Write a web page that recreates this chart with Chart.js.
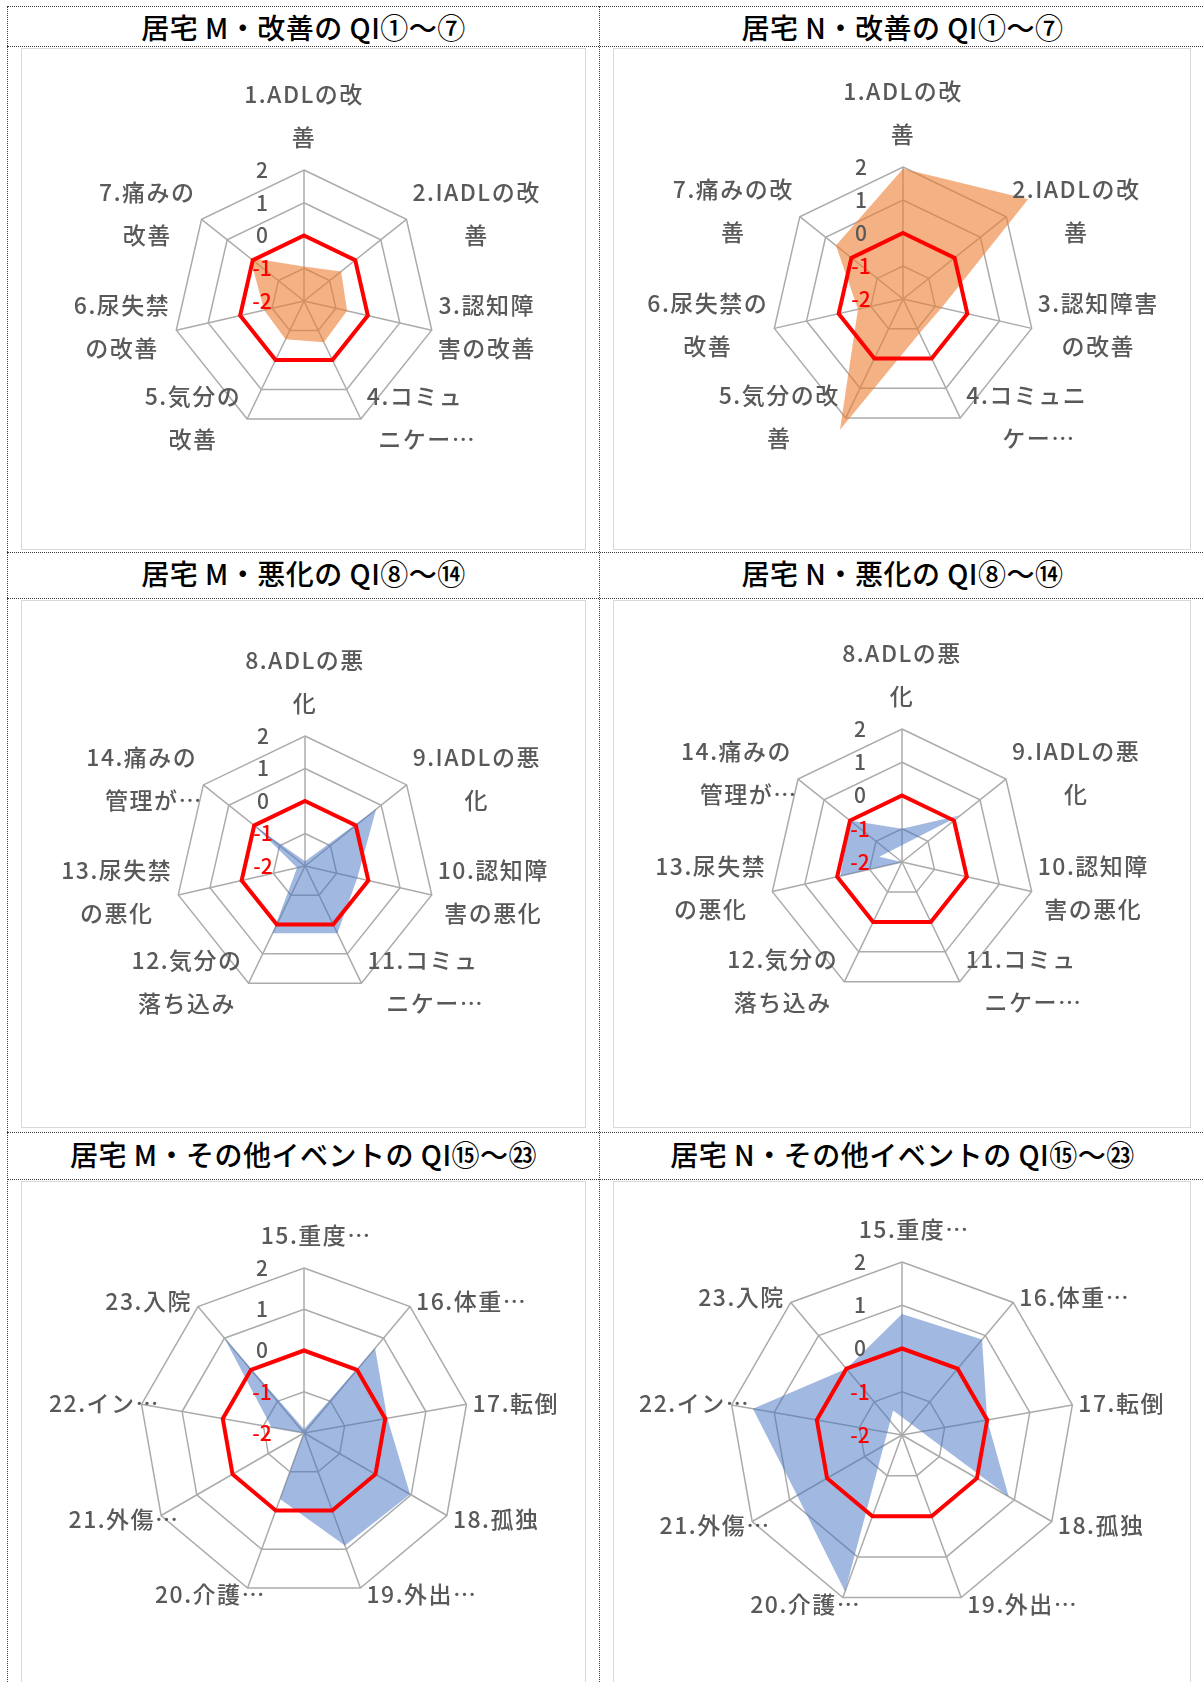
<!DOCTYPE html>
<html><head><meta charset="utf-8">
<script src="https://cdn.jsdelivr.net/npm/chart.js@4.4.1/dist/chart.umd.min.js"></script>
<style>
html,body{margin:0;padding:0;background:#fff;}
body{width:1203px;height:1682px;position:relative;overflow:hidden;font-family:"Noto Sans CJK JP","Noto Sans",sans-serif;}
.hl{position:absolute;height:0;border-top:1px dotted #3a3a3a;}
.vl{position:absolute;width:0;border-left:1px dotted #3a3a3a;}
.title{position:absolute;text-align:center;font-size:28px;font-weight:500;color:#000;letter-spacing:0.5px;line-height:40px;height:40px;white-space:nowrap;}
.box{position:absolute;border:1px solid #d9d9d9;box-sizing:border-box;}
canvas{position:absolute;}
</style></head><body>
<div class="hl" style="left:7px;width:1198px;top:6px"></div>
<div class="hl" style="left:7px;width:1198px;top:46px"></div>
<div class="hl" style="left:7px;width:1198px;top:552px"></div>
<div class="hl" style="left:7px;width:1198px;top:598px"></div>
<div class="hl" style="left:7px;width:1198px;top:1132px"></div>
<div class="hl" style="left:7px;width:1198px;top:1179px"></div>
<div class="vl" style="left:7px;top:6px;height:1680px"></div>
<div class="vl" style="left:599px;top:6px;height:1680px"></div>
<div id="root"></div>
<script>
// ---------- data ----------
const tickValues = [-2, -1, 0, 1, 2];

const titles = [
  "居宅 M・改善の QI①～⑦", "居宅 N・改善の QI①～⑦",
  "居宅 M・悪化の QI⑧～⑭", "居宅 N・悪化の QI⑧～⑭",
  "居宅 M・その他イベントの QI⑮～㉓", "居宅 N・その他イベントの QI⑮～㉓"
];

const labelsImpM = [["1.ADLの改","善"],["2.IADLの改","善"],["3.認知障","害の改善"],["4.コミュ","ニケー…"],["5.気分の","改善"],["6.尿失禁","の改善"],["7.痛みの","改善"]];
const labelsImpN = [["1.ADLの改","善"],["2.IADLの改","善"],["3.認知障害","の改善"],["4.コミュニ","ケー…"],["5.気分の改","善"],["6.尿失禁の","改善"],["7.痛みの改","善"]];
const labelsDet = [["8.ADLの悪","化"],["9.IADLの悪","化"],["10.認知障","害の悪化"],["11.コミュ","ニケー…"],["12.気分の","落ち込み"],["13.尿失禁","の悪化"],["14.痛みの","管理が…"]];
const labelsOther = ["15.重度…","16.体重…","17.転倒","18.孤独","19.外出…","20.介護…","21.外傷…","22.イン…","23.入院"];

const improveM = [-0.95, -0.55, -0.65, -0.6, -0.7, -0.75, 0.1];
const improveN = [1.95, 2.85, -0.8, -0.85, 2.4, -0.6, 0.6];
const worsenM  = [-1.85, 0.8, -0.35, 0.3, 0.3, -1.75, 0.0];
const worsenN  = [-1.0, 0.25, -2.7, -2.0, -2.0, -0.1, 0.0];
const otherM   = [-1.9, 0.68, 0.05, 0.97, 0.9, -0.3, -2.0, -1.2, 1.0];
const otherN   = [0.8, 0.88, 0.0, 0.85, -2.6, 1.85, 0.8, 1.5, 0.0];

const base7 = [0, 0, 0, 0, 0, 0, 0];
const base9 = [0, 0, 0, 0, 0, 0, 0, 0, 0];

// ---------- styling ----------
const FONT = '"Noto Sans CJK JP", "Noto Sans", sans-serif';
const ORANGE = 'rgba(237,125,49,0.6)';
const BLUE = 'rgba(68,114,196,0.5)';
const TICK_SIZE = 21;
const PAD = '\u3000\u3000\u3000\u3000';

const excelLabels = {
  id: 'excelLabels',
  afterDatasetsDraw(chart, args, o) {
    const scale = chart.scales.r;
    const ctx = chart.ctx;
    ctx.save();
    ctx.font = o.weight + ' ' + o.size + 'px ' + FONT;
    try { ctx.letterSpacing = o.spacing + 'px'; } catch (e) {}
    ctx.fillStyle = o.color;
    ctx.textBaseline = 'middle';
    ctx.textAlign = 'left';
    const R = scale.drawingArea;
    chart.data.labels.forEach((lab, i) => {
      const lines = Array.isArray(lab) ? lab : [lab];
      const p = scale.getPointPosition(i, R);
      const a = scale.getIndexAngle(i);
      const s = Math.sin(a), c = Math.cos(a);
      const ws = lines.map(t => ctx.measureText(t.replace('…', '')).width);
      const W = Math.max.apply(null, ws), H = lines.length * o.lineHeight;
      let cx, cy;
      if (Math.abs(s) < 0.05) {
        cx = p.x;
        cy = c > 0 ? p.y - o.topGap - H / 2 : p.y + o.topGap + H / 2;
      } else {
        cx = s > 0 ? p.x + o.gap + W / 2 : p.x - o.gap - W / 2;
        cy = p.y - o.lift * c - (lines.length - 1) * o.multiLift * (1 - c);
      }
      lines.forEach((t, k) => ctx.fillText(t, cx - ws[k] / 2, cy - H / 2 + o.lineHeight * (k + 0.5)));
    });
    ctx.restore();
  }
};

// layout: [boxLeft, boxTop, boxW, boxH, centerX, centerY, radius]
const panels = [
  { title: titles[0], labels: labelsImpM, values: improveM, base: base7, color: ORANGE, geom: [21, 48, 565, 502, 283, 253, 131] },
  { title: titles[1], labels: labelsImpN, values: improveN, base: base7, color: ORANGE, geom: [613, 48, 578, 502, 290, 251, 132] },
  { title: titles[2], labels: labelsDet, values: worsenM, base: base7, color: BLUE, geom: [21, 600, 565, 528, 284, 266, 130] },
  { title: titles[3], labels: labelsDet, values: worsenN, base: base7, color: BLUE, geom: [613, 600, 578, 528, 289, 262, 133] },
  { title: titles[4], labels: labelsOther, values: otherM, base: base9, color: BLUE, geom: [21, 1181, 565, 510, 283, 252, 165] },
  { title: titles[5], labels: labelsOther, values: otherN, base: base9, color: BLUE, geom: [613, 1181, 578, 510, 289, 254, 173] }
];
const titleRows = [7, 553, 1134];

const root = document.getElementById('root');
panels.forEach((pn, idx) => {
  const col = idx % 2, row = Math.floor(idx / 2);
  const t = document.createElement('div');
  t.className = 'title';
  t.style.left = (col === 0 ? 8 : 600) + 'px';
  t.style.width = (col === 0 ? 591 : 605) + 'px';
  t.style.top = titleRows[row] + 'px';
  t.textContent = pn.title;
  root.appendChild(t);

  const [bx, by, bw, bh, cx, cy, R] = pn.geom;
  const box = document.createElement('div');
  box.className = 'box';
  Object.assign(box.style, { left: bx + 'px', top: by + 'px', width: bw + 'px', height: bh + 'px' });
  root.appendChild(box);

  const cv = document.createElement('canvas');
  cv.width = bw; cv.height = bh;
  Object.assign(cv.style, { left: bx + 'px', top: by + 'px', width: bw + 'px', height: bh + 'px' });
  root.appendChild(cv);

  const half = TICK_SIZE / 2;
  new Chart(cv, {
    type: 'radar',
    data: {
      labels: pn.labels,
      datasets: [
        { data: pn.base, borderColor: '#FF0000', borderWidth: 4, borderJoinStyle: 'miter', fill: false, pointRadius: 0, order: 0 },
        { data: pn.values, backgroundColor: pn.color, borderColor: 'rgba(0,0,0,0)', borderWidth: 0, fill: 'start', pointRadius: 0, order: 1 }
      ]
    },
    options: {
      responsive: false, animation: false, events: [],
      devicePixelRatio: 1,
      layout: { padding: { left: cx - R - half, right: bw - cx - R - half, top: cy - R - half, bottom: bh - cy - R - half } },
      plugins: {
        legend: { display: false }, tooltip: { enabled: false },
        excelLabels: { size: 23, weight: 500, spacing: 1.5, color: '#595959', lineHeight: 43, gap: 6, topGap: 11, lift: 7, multiLift: 4 }
      },
      scales: {
        r: {
          min: tickValues[0], max: tickValues[tickValues.length - 1],
          ticks: {
            stepSize: 1, z: 1, showLabelBackdrop: false, backdropPadding: 0,
            font: { family: FONT, size: TICK_SIZE, lineHeight: 1, weight: 500 },
            color: c => (c.tick && c.tick.value < 0) ? '#FF0000' : '#595959',
            callback: v => v + PAD
          },
          grid: { color: '#ABABAB', lineWidth: 1.5 },
          angleLines: { color: '#ABABAB', lineWidth: 1.5 },
          pointLabels: { display: false }
        }
      }
    },
    plugins: [excelLabels]
  });
});
</script>
</body></html>
